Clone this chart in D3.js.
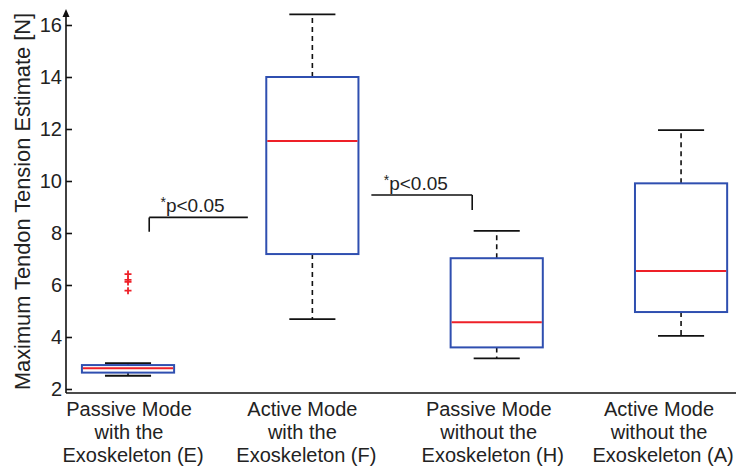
<!DOCTYPE html>
<html>
<head>
<meta charset="utf-8">
<script src="https://cdn.jsdelivr.net/npm/d3@7"></script>
<style>
  body { margin: 0; background: #fff; }
  text { font-family: "Liberation Sans", Arial, sans-serif; fill: #222; }
</style>
</head>
<body>
<svg id="chart" width="736" height="470"></svg>
<script>
// group labels (one line per entry)
const groups = [
  ["Passive Mode", "with the", "Exoskeleton (E)"],
  ["Active Mode", "with the", "Exoskeleton (F)"],
  ["Passive Mode", "without the", "Exoskeleton (H)"],
  ["Active Mode", "without the", "Exoskeleton (A)"],
];
// box statistics
const whiskerLow = [2.51, 4.69, 3.18, 4.04];
const q1 = [2.63, 7.19, 3.6, 4.96];
const median = [2.8, 11.54, 4.57, 6.54];
const q3 = [2.92, 14.0, 7.03, 9.91];
const whiskerHigh = [2.99, 16.41, 8.08, 11.96];
const outliers = [[6.42, 6.2, 6.12, 5.78], [], [], []];
const yTicks = [2, 4, 6, 8, 10, 12, 14, 16];
// significance brackets: [from, to] in group position, bar level, tick end
const sigFrom = [1.115, 2.32];
const sigTo = [1.65, 2.867];
const sigLevel = [8.6, 9.46];
const sigTipLevel = [8.05, 8.88];
const sigLabel = ["*p<0.05", "*p<0.05"];

const svg = d3.select("#chart");
const mLeft = 66, mRight = 736, mTop = 10, mBottom = 393;
// tick-label blocks are not quite centred under their boxes in the original
const labelShift = [1, -10, -8, -22];

const x = d3.scaleLinear().domain([0.6636, 4.298]).range([mLeft, mRight]);
const y = d3.scaleLinear().domain([1.846, 16.577]).range([mBottom, mTop]);
const boxW = (x(2) - x(1)) * 0.5;
const capW = boxW / 2;

const blue = "#2f4fb0", red = "#ee2028";

// axes
const axes = svg.append("g").attr("stroke", "#111").attr("stroke-width", 1.6);
axes.append("line").attr("x1", mLeft).attr("x2", mRight).attr("y1", mBottom).attr("y2", mBottom);
axes.append("line").attr("x1", mLeft).attr("x2", mLeft).attr("y1", mBottom).attr("y2", mTop + 4);
svg.append("path")
  .attr("d", `M${mLeft - 3.5},${mTop + 7}L${mLeft},${mTop - 1}L${mLeft + 3.5},${mTop + 7}Z`)
  .attr("fill", "#111");

const yAxis = d3.axisRight(y).tickValues(yTicks).tickSize(6).tickFormat("");
svg.append("g")
  .attr("transform", `translate(${mLeft},0)`)
  .call(yAxis)
  .call((g) => g.select(".domain").remove())
  .call((g) => g.selectAll("line").attr("stroke", "#111").attr("stroke-width", 1.6));

svg.append("g")
  .selectAll("text")
  .data(yTicks)
  .enter()
  .append("text")
  .attr("x", mLeft - 4)
  .attr("y", (d) => y(d) + 7)
  .attr("text-anchor", "end")
  .attr("font-size", 20)
  .text((d) => d);

svg.append("text")
  .attr("transform", `translate(30,${(mTop + mBottom) / 2}) rotate(-90)`)
  .attr("text-anchor", "middle")
  .attr("font-size", 21.8)
  .text("Maximum Tendon Tension Estimate [N]");

// group labels
groups.forEach((lines, i) => {
  const cx = x(i + 1) + labelShift[i];
  svg.append("text")
    .attr("text-anchor", "middle")
    .attr("font-size", 20)
    .selectAll("tspan")
    .data(lines)
    .enter()
    .append("tspan")
    .attr("x", (_, j) => (j === 2 ? cx + 4 : cx))
    .attr("y", (_, j) => 416 + j * 23)
    .text((d) => d);
});

// boxes
const idx = d3.range(groups.length);
const boxes = svg.append("g").selectAll("g").data(idx).enter().append("g");

boxes.append("line")
  .attr("x1", (i) => x(i + 1)).attr("x2", (i) => x(i + 1))
  .attr("y1", (i) => y(q3[i])).attr("y2", (i) => y(whiskerHigh[i]))
  .attr("stroke", "#111").attr("stroke-width", 1.6).attr("stroke-dasharray", "5,4");
boxes.append("line")
  .attr("x1", (i) => x(i + 1)).attr("x2", (i) => x(i + 1))
  .attr("y1", (i) => y(q1[i])).attr("y2", (i) => y(whiskerLow[i]))
  .attr("stroke", "#111").attr("stroke-width", 1.6).attr("stroke-dasharray", "5,4");

[whiskerHigh, whiskerLow].forEach((arr) => {
  boxes.append("line")
    .attr("x1", (i) => x(i + 1) - capW / 2).attr("x2", (i) => x(i + 1) + capW / 2)
    .attr("y1", (i) => y(arr[i])).attr("y2", (i) => y(arr[i]))
    .attr("stroke", "#111").attr("stroke-width", 1.8);
});

boxes.append("rect")
  .attr("x", (i) => x(i + 1) - boxW / 2)
  .attr("width", boxW)
  .attr("y", (i) => y(q3[i]))
  .attr("height", (i) => y(q1[i]) - y(q3[i]))
  .attr("fill", "none").attr("stroke", blue).attr("stroke-width", 2);

boxes.append("line")
  .attr("x1", (i) => x(i + 1) - boxW / 2 + 1).attr("x2", (i) => x(i + 1) + boxW / 2 - 1)
  .attr("y1", (i) => y(median[i])).attr("y2", (i) => y(median[i]))
  .attr("stroke", red).attr("stroke-width", 2);

// outliers as red plus signs
const outPts = idx.flatMap((i) => outliers[i].map((v) => ({ i, v })));
svg.append("g").selectAll("path").data(outPts).enter().append("path")
  .attr("d", (d) => {
    const cx = x(d.i + 1), cy = y(d.v);
    return `M${cx - 3.5},${cy}H${cx + 3.5}M${cx},${cy - 3.5}V${cy + 3.5}`;
  })
  .attr("stroke", red).attr("stroke-width", 1.8);

// significance brackets
sigLabel.forEach((lab, k) => {
  const x0 = x(sigFrom[k]), x1 = x(sigTo[k]);
  const yl = y(sigLevel[k]), yt = y(sigTipLevel[k]);
  const tipX = k === 0 ? x0 : x1;
  svg.append("path")
    .attr("d", `M${x0},${yl}H${x1}M${tipX},${yl}V${yt}`)
    .attr("fill", "none").attr("stroke", "#111").attr("stroke-width", 1.6);
  const t = svg.append("text")
    .attr("x", (x0 + x1) / 2 - 6)
    .attr("y", yl - 5)
    .attr("text-anchor", "middle")
    .attr("font-size", 19);
  t.append("tspan").attr("font-size", 14).attr("dy", -5).text(lab[0]);
  t.append("tspan").attr("dy", 5).text(lab.slice(1));
});
</script>
</body>
</html>
